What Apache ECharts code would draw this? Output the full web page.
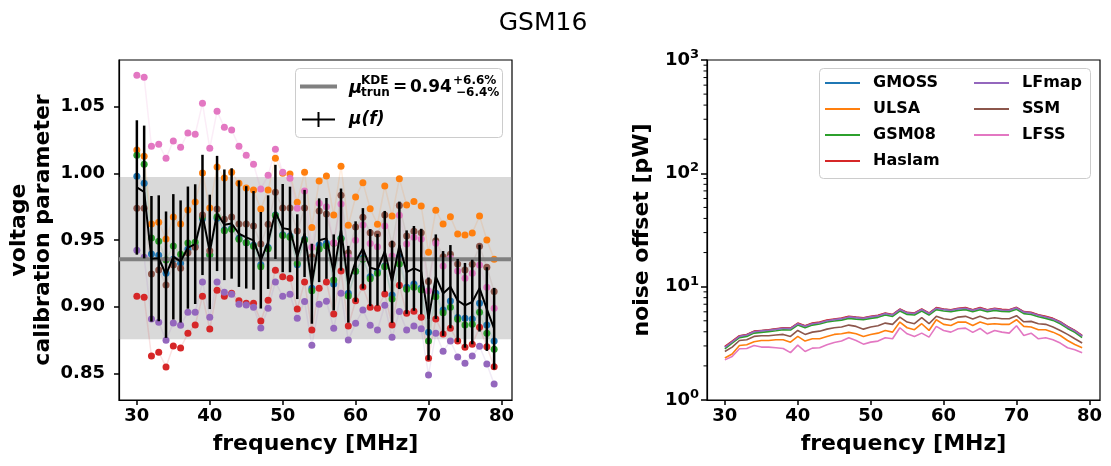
<!DOCTYPE html>
<html><head><meta charset="utf-8">
<script src="https://cdn.jsdelivr.net/npm/echarts@6/dist/echarts.min.js"></script>
<style>html,body{margin:0;padding:0;background:#fff}#c{width:1111px;height:466px}</style>
</head><body><div id="c"></div>
<script>
const freqs = [30,31,32,33,34,35,36,37,38,39,40,41,42,43,44,45,46,47,48,49,50,51,52,53,54,55,56,57,58,59,60,61,62,63,64,65,66,67,68,69,70,71,72,73,74,75,76,77,78,79];

// voltage calibration parameter per sky model
const calGMOSS = [0.9978,0.9925,0.9395,0.9385,0.925,0.9355,0.9325,0.943,0.9455,0.966,0.9388,0.9663,0.9575,0.9588,0.9513,0.948,0.946,0.9315,0.9443,0.9688,0.954,0.953,0.9315,0.9505,0.9138,0.9463,0.9475,0.917,0.9513,0.91,0.9265,0.9365,0.9225,0.926,0.9305,0.9088,0.9375,0.9145,0.917,0.914,0.8808,0.91,0.8975,0.9043,0.8918,0.8913,0.8908,0.9025,0.8863,0.8743];
const calULSA = [1.0175,1.0128,0.962,0.9633,0.9508,0.9673,0.962,0.9725,0.9785,1.0003,0.974,1.0048,0.9965,1.0008,0.9925,0.989,0.9875,0.9733,0.9875,1.0113,1.0,0.9995,0.9783,1.0008,0.9593,0.9943,0.998,0.9688,1.0053,0.961,0.9823,0.993,0.9735,0.9618,0.9905,0.968,0.996,0.9763,0.9788,0.9755,0.9408,0.9723,0.962,0.9675,0.9545,0.9538,0.9553,0.968,0.95,0.9355];
const calGSM08 = [1.0135,1.0068,0.9515,0.949,0.935,0.9455,0.9393,0.9478,0.9483,0.9675,0.939,0.9675,0.957,0.958,0.9505,0.948,0.9453,0.93,0.9435,0.9683,0.9533,0.952,0.9325,0.95,0.912,0.9433,0.9455,0.92,0.951,0.908,0.9265,0.9355,0.921,0.925,0.93,0.9058,0.932,0.913,0.9145,0.9125,0.8743,0.9075,0.8955,0.8995,0.8905,0.8863,0.8868,0.8958,0.88,0.868];
const calHaslam = [0.9078,0.907,0.863,0.8658,0.8548,0.8705,0.869,0.88,0.8863,0.9078,0.8833,0.9123,0.9078,0.91,0.9045,0.9025,0.9025,0.8893,0.9048,0.9273,0.9225,0.9213,0.8983,0.9185,0.8825,0.9138,0.9185,0.8945,0.9268,0.8855,0.9045,0.9148,0.8995,0.8988,0.9095,0.8863,0.916,0.895,0.8965,0.892,0.8613,0.8908,0.8795,0.8838,0.8743,0.8695,0.8718,0.8845,0.87,0.855];
const calLFmap = [0.9423,0.937,0.8908,0.8883,0.8748,0.8878,0.886,0.8958,0.8958,0.9185,0.892,0.9185,0.9108,0.9093,0.9018,0.9013,0.8995,0.884,0.8988,0.9185,0.9078,0.9093,0.8913,0.9038,0.871,0.9018,0.904,0.8838,0.91,0.875,0.8875,0.8975,0.886,0.8825,0.901,0.877,0.8963,0.8825,0.8855,0.8835,0.8488,0.88,0.8665,0.8743,0.8623,0.8575,0.863,0.8703,0.857,0.842];
const calSSM = [0.9738,0.9738,0.9245,0.9275,0.9163,0.9313,0.9288,0.9405,0.9445,0.9688,0.942,0.9733,0.9655,0.9673,0.962,0.962,0.9605,0.947,0.9618,0.9858,0.974,0.974,0.9568,0.974,0.9375,0.9718,0.9695,0.9475,0.9835,0.9405,0.9598,0.967,0.9555,0.9545,0.9688,0.9468,0.9758,0.953,0.9565,0.9555,0.9188,0.9495,0.9375,0.9393,0.932,0.9275,0.9318,0.9453,0.9295,0.9113];
const calLFSS = [1.0735,1.072,1.0203,1.0218,1.0113,1.0243,1.0195,1.0303,1.0293,1.0525,1.0188,1.0465,1.0345,1.0325,1.0203,1.0135,1.0068,0.9883,0.9985,1.018,1.0008,0.9963,0.9738,0.9868,0.9445,0.9775,0.975,0.948,0.977,0.9375,0.9498,0.9613,0.9473,0.945,0.9605,0.938,0.9685,0.947,0.952,0.9508,0.912,0.9475,0.9305,0.9363,0.9268,0.9213,0.925,0.9313,0.9145,0.8988];

// mean over models and its spread
const meanCal = [0.9894,0.986,0.9359,0.9363,0.924,0.9374,0.9339,0.9443,0.9469,0.9688,0.9411,0.9699,0.9614,0.9624,0.9547,0.952,0.9497,0.9348,0.9484,0.9711,0.9589,0.9579,0.9375,0.9549,0.9172,0.9498,0.9512,0.9257,0.9578,0.9168,0.9338,0.9437,0.9293,0.9277,0.9415,0.9187,0.946,0.9259,0.9287,0.9263,0.8909,0.9225,0.9099,0.915,0.9046,0.901,0.9035,0.9139,0.8982,0.8835];
const errCal = [0.0504,0.0498,0.0471,0.0472,0.0474,0.047,0.0458,0.0458,0.0449,0.0451,0.0429,0.0432,0.0415,0.0414,0.0399,0.0384,0.037,0.0362,0.0351,0.0353,0.0331,0.0321,0.0318,0.0327,0.03,0.0314,0.0303,0.0285,0.0308,0.0288,0.0302,0.0302,0.0289,0.0269,0.0303,0.0308,0.0328,0.0313,0.0318,0.0321,0.031,0.0317,0.0318,0.0312,0.0312,0.0318,0.0317,0.0326,0.0314,0.0306];

const muKDE = 0.9355;
const bandHi = 0.9972;
const bandLo = 0.8756;

// noise offset [pW]
const noiseGMOSS = [2.93,3.28,3.66,3.76,4.02,4.08,4.14,4.22,4.30,4.28,4.72,4.49,4.73,4.83,5.03,5.14,5.24,5.42,5.35,5.28,5.42,5.53,5.80,5.64,6.30,5.88,5.80,6.30,5.80,6.48,6.30,6.21,6.39,6.48,6.21,6.48,6.21,6.39,6.25,6.21,6.52,5.98,5.89,5.62,5.43,5.21,4.86,4.43,4.08,3.68];
const noiseULSA = [2.35,2.55,3.03,3.07,3.26,3.35,3.35,3.40,3.40,3.24,3.64,3.31,3.47,3.47,3.64,3.79,3.84,3.95,3.84,3.64,3.79,3.89,4.11,3.97,4.87,4.34,4.17,4.71,4.11,5.11,4.65,4.55,4.87,4.87,4.55,4.87,4.65,4.71,4.65,4.65,5.11,4.46,4.40,4.17,4.17,3.97,3.71,3.35,3.09,2.89];
const noiseGSM08 = [2.82,3.17,3.55,3.64,3.89,3.95,4.01,4.08,4.17,4.14,4.58,4.34,4.58,4.68,4.87,4.97,5.07,5.25,5.17,5.11,5.25,5.36,5.62,5.46,6.10,5.69,5.62,6.10,5.62,6.27,6.10,6.01,6.18,6.27,6.01,6.27,6.01,6.18,6.05,6.01,6.31,5.78,5.69,5.43,5.25,5.04,4.70,4.28,3.95,3.56];
const noiseHaslam = [2.97,3.31,3.69,3.79,4.05,4.11,4.17,4.25,4.34,4.31,4.77,4.52,4.77,4.87,5.07,5.18,5.28,5.47,5.39,5.32,5.47,5.58,5.85,5.69,6.35,5.93,5.85,6.35,5.85,6.53,6.35,6.26,6.44,6.53,6.26,6.53,6.26,6.44,6.30,6.26,6.57,6.02,5.93,5.66,5.47,5.25,4.90,4.46,4.11,3.71];
const noiseLFmap = [2.91,3.26,3.64,3.75,4.00,4.07,4.12,4.20,4.29,4.26,4.71,4.47,4.71,4.81,5.01,5.12,5.22,5.41,5.33,5.26,5.41,5.52,5.79,5.63,6.28,5.87,5.79,6.28,5.79,6.46,6.28,6.19,6.37,6.46,6.19,6.46,6.19,6.37,6.23,6.19,6.50,5.96,5.87,5.60,5.41,5.19,4.85,4.41,4.07,3.67];
const noiseSSM = [2.68,2.93,3.35,3.40,3.64,3.69,3.69,3.74,3.79,3.64,4.11,3.79,3.97,4.05,4.22,4.34,4.40,4.58,4.46,4.22,4.40,4.52,4.77,4.65,5.39,4.87,4.71,5.32,4.71,5.47,5.21,5.11,5.39,5.47,5.18,5.47,5.21,5.32,5.21,5.21,5.54,4.90,4.94,4.71,4.65,4.40,4.11,3.79,3.47,3.18];
const noiseLFSS = [2.26,2.42,2.83,2.85,3.03,2.93,2.93,2.89,2.85,2.62,3.05,2.68,2.87,2.89,3.07,3.22,3.31,3.54,3.35,3.11,3.24,3.31,3.54,3.47,4.34,3.84,3.64,3.89,3.59,4.46,4.11,3.97,4.25,4.31,3.95,4.28,3.84,4.11,3.97,3.89,4.52,3.71,3.89,3.47,3.54,3.40,3.18,2.89,2.77,2.61];

const modelNames = ['GMOSS','ULSA','GSM08','Haslam','LFmap','SSM','LFSS'];
const xTicks = [30,40,50,60,70,80];
const calTicks = [0.85,0.90,0.95,1.00,1.05];
const noiseTicks = [1,10,100,1000];
const noiseTickExp = ['0','1','2','3'];
const noiseMinorTicks = [2,3,4,5,6,7,8,9,20,30,40,50,60,70,80,90,200,300,400,500,600,700,800,900];

const colors = ['#1f77b4','#ff7f0e','#2ca02c','#d62728','#9467bd','#8c564b','#e377c2'];
const calSets = [calGMOSS,calULSA,calGSM08,calHaslam,calLFmap,calSSM,calLFSS];
const noiseSets = [noiseGMOSS,noiseULSA,noiseGSM08,noiseHaslam,noiseLFmap,noiseSSM,noiseLFSS];

const xMin = 27.55, xMax = 81.45;
const FONT = 'DejaVu Sans';
const pairs = arr => freqs.map((f,i)=>[f, arr[i]]);

const chart = echarts.init(document.getElementById('c'), null, {renderer:'canvas'});

const tickLbl = {fontFamily:FONT, fontSize:18, fontWeight:'bold', color:'#000'};
const axLine = {show:true, lineStyle:{color:'#000', width:1.2}};
const axTick = {show:true, length:5, lineStyle:{color:'#000', width:1.5}};
const nameStyle = {fontFamily:FONT, fontSize:22, fontWeight:'bold', color:'#000'};

const series = [];
// band
series.push({
  type:'custom', xAxisIndex:0, yAxisIndex:0, z:1, silent:true,
  data:[[bandLo, bandHi]],
  renderItem:(params, api)=>{
    const p1 = api.coord([xMin, api.value(1)]);
    const p2 = api.coord([xMax, api.value(0)]);
    return {type:'rect', shape:{x:p1[0], y:p1[1], width:p2[0]-p1[0], height:p2[1]-p1[1]},
      style:{fill:'rgba(128,128,128,0.3)'}};
  }
});
// model points
calSets.forEach((arr, k)=>{
  series.push({
    type:'line', name:modelNames[k]+' cal', xAxisIndex:0, yAxisIndex:0, z:2,
    data:pairs(arr), symbol:'circle', symbolSize:7, showSymbol:true,
    itemStyle:{color:colors[k], opacity:1},
    lineStyle:{color:colors[k], width:1.5, opacity:0.13},
    emphasis:{disabled:true}, animation:false
  });
});
// grey mu line
series.push({
  type:'custom', xAxisIndex:0, yAxisIndex:0, z:3, silent:true,
  data:[[muKDE]],
  renderItem:(params, api)=>{
    const p1 = api.coord([xMin, api.value(0)]);
    const p2 = api.coord([xMax, api.value(0)]);
    return {type:'line', shape:{x1:p1[0], y1:p1[1], x2:p2[0], y2:p2[1]},
      style:{stroke:'#808080', lineWidth:4}};
  }
});
// error bars
series.push({
  type:'custom', xAxisIndex:0, yAxisIndex:0, z:4, silent:true,
  data:freqs.map((f,i)=>[f, meanCal[i]-errCal[i], meanCal[i]+errCal[i]]),
  renderItem:(params, api)=>{
    const p1 = api.coord([api.value(0), api.value(1)]);
    const p2 = api.coord([api.value(0), api.value(2)]);
    return {type:'line', shape:{x1:p1[0], y1:p1[1], x2:p2[0], y2:p2[1]},
      style:{stroke:'#000', lineWidth:2.5}};
  }
});
series.push({
  type:'line', name:'mean', xAxisIndex:0, yAxisIndex:0, z:5,
  data:pairs(meanCal), symbol:'none', lineStyle:{color:'#000', width:2}, itemStyle:{color:'#000'},
  emphasis:{disabled:true}
});
// right panel lines
noiseSets.forEach((arr,k)=>{
  series.push({
    type:'line', name:modelNames[k], xAxisIndex:1, yAxisIndex:1, z:2,
    data:pairs(arr), symbol:'none', lineStyle:{color:colors[k], width:1.6}, itemStyle:{color:colors[k]},
    emphasis:{disabled:true}
  });
});
// minor log ticks
series.push({
  type:'custom', xAxisIndex:1, yAxisIndex:1, z:6, silent:true, clip:false,
  data:noiseMinorTicks.map(v=>[xMin, v]),
  renderItem:(params, api)=>{
    const p = api.coord([api.value(0), api.value(1)]);
    return {type:'line', shape:{x1:p[0]-3.5, y1:p[1], x2:p[0], y2:p[1]}, style:{stroke:'#000', lineWidth:1}};
  }
});

const lt = (x, y, text, size, extra) => ({type:'text', x, y, z:100,
  style:Object.assign({text, font:'bold '+size+'px "'+FONT+'"', fill:'#000', textVerticalAlign:'middle', verticalAlign:'middle'}, extra||{})});

const legCommon = {
  orient:'vertical', top:68, itemWidth:35, itemHeight:2, itemGap:10, icon:'rect',
  padding:[7,8,8,6], backgroundColor:'transparent', borderWidth:0, selectedMode:false, z:20,
  textStyle:{fontFamily:FONT, fontSize:16, fontWeight:'bold', color:'#000', padding:[0,0,0,8]}
};

const option = {
  animation:false,
  backgroundColor:'#fff',
  title:{text:'GSM16', left:538, top:6, textAlign:'center',
    textStyle:{fontFamily:FONT, fontSize:25, fontWeight:'normal', color:'#000'}},
  grid:[
    {left:119, top:60, width:393, height:340, show:true, borderColor:'#000', borderWidth:1.2, backgroundColor:'transparent'},
    {left:707, top:60, width:393, height:340, show:true, borderColor:'#000', borderWidth:1.2, backgroundColor:'transparent'}
  ],
  xAxis:[
    {type:'value', gridIndex:0, min:xMin, max:xMax, splitLine:{show:false},
     axisLine:axLine, axisTick:Object.assign({customValues:xTicks}, axTick),
     axisLabel:Object.assign({customValues:xTicks, margin:7}, tickLbl),
     name:'frequency [MHz]', nameLocation:'middle', nameGap:33, nameTextStyle:nameStyle},
    {type:'value', gridIndex:1, min:xMin, max:xMax, splitLine:{show:false},
     axisLine:axLine, axisTick:Object.assign({customValues:xTicks}, axTick),
     axisLabel:Object.assign({customValues:xTicks, margin:7}, tickLbl),
     name:'frequency [MHz]', nameLocation:'middle', nameGap:33, nameTextStyle:nameStyle}
  ],
  yAxis:[
    {type:'value', gridIndex:0, min:0.83, max:1.085, splitLine:{show:false},
     axisLine:axLine, axisTick:Object.assign({customValues:calTicks}, axTick),
     axisLabel:Object.assign({customValues:calTicks, margin:14, formatter:v=>v.toFixed(2)}, tickLbl),
     name:'voltage\ncalibration parameter', nameLocation:'middle', nameGap:64, nameRotate:90,
     nameTextStyle:Object.assign({lineHeight:24}, nameStyle)},
    {type:'log', logBase:10, gridIndex:1, min:1, max:1000, splitLine:{show:false},
     axisLine:axLine, axisTick:Object.assign({customValues:noiseTicks}, axTick, {length:6}),
     axisLabel:{customValues:noiseTicks, margin:8,
       formatter:v=>{const i = noiseTicks.indexOf(Math.round(v)); return '{b|10}{s|'+(i>=0?noiseTickExp[i]:'')+'}';},
       rich:{b:{fontFamily:FONT, fontSize:18, fontWeight:'bold', color:'#000', lineHeight:24},
             s:{fontFamily:FONT, fontSize:13, fontWeight:'bold', color:'#000', verticalAlign:'top', lineHeight:14}}},
     name:'noise offset [pW]', nameLocation:'middle', nameGap:54, nameRotate:90, nameTextStyle:nameStyle}
  ],
  legend:[
    Object.assign({left:819, data:modelNames.slice(0,4)}, legCommon),
    Object.assign({left:968, data:modelNames.slice(4)}, legCommon)
  ],
  graphic:[
    {type:'rect', z:99, shape:{x:295.5, y:68.5, width:207, height:69, r:4},
     style:{fill:'rgba(255,255,255,0.85)', stroke:'#cccccc', lineWidth:1}},
    {type:'line', z:100, shape:{x1:300, y1:86.5, x2:337, y2:86.5}, style:{stroke:'#808080', lineWidth:4}},
    lt(349, 88, 'μ', 18, {font:'italic bold 18px "'+FONT+'"'}),
    lt(361, 80.5, 'KDE', 12),
    lt(361, 92.5, 'trun', 12),
    lt(393, 87.5, '=', 17),
    lt(410, 87.5, '0.94', 17),
    lt(453, 80.5, '+6.6%', 12),
    lt(456, 92.5, '−6.4%', 12),
    {type:'line', z:100, shape:{x1:302, y1:119.5, x2:335, y2:119.5}, style:{stroke:'#000', lineWidth:2}},
    {type:'line', z:100, shape:{x1:318.5, y1:112, x2:318.5, y2:127}, style:{stroke:'#000', lineWidth:2}},
    lt(349, 119.5, 'μ(f)', 17, {font:'italic bold 17px "'+FONT+'"'}),
    {type:'rect', z:-1, shape:{x:819.5, y:68.5, width:271, height:110, r:4},
     style:{fill:'rgba(255,255,255,0.85)', stroke:'#cccccc', lineWidth:1}}
  ],
  series
};
chart.setOption(option);
</script></body></html>
